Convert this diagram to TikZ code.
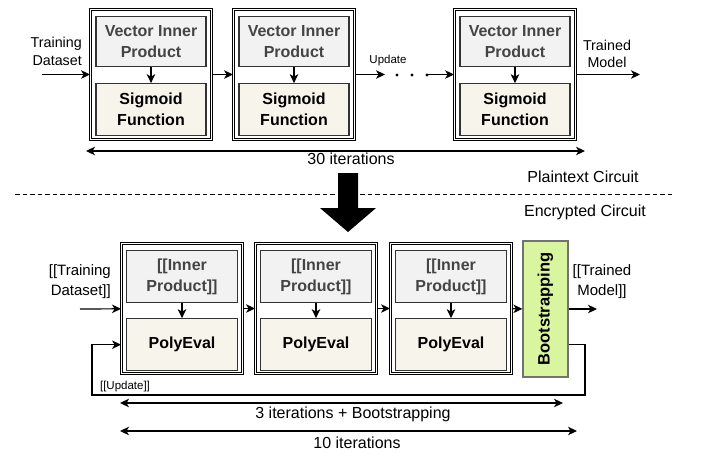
\documentclass[tikz,border=0pt]{standalone}
\usepackage{fontspec}
\setmainfont{Liberation Sans}
\usetikzlibrary{positioning,arrows.meta}

\definecolor{boxgray}{HTML}{F2F2F2}
\definecolor{boxcream}{HTML}{F7F4EC}
\definecolor{bootgreen}{HTML}{DAF59F}
\definecolor{edgegray}{HTML}{333333}
\definecolor{txtgray}{HTML}{444444}

\tikzset{
  stage/.style={draw, double, double distance=1.3pt, line width=0.9pt,
    minimum width=121pt, minimum height=130pt, inner sep=0pt},
  prodbox/.style={draw=edgegray, line width=1.1pt, fill=boxgray, text=txtgray,
    minimum width=110pt, minimum height=50pt, align=center,
    font=\fontsize{16}{21}\selectfont\bfseries},
  funcbox/.style={prodbox, fill=boxcream, text=black, minimum height=52pt},
  lbl/.style={align=center, inner sep=0pt, font=\fontsize{14.3}{17.5}\selectfont},
  flow/.style={-{Stealth[length=9pt,width=8.5pt,inset=2.5pt]}, line width=1.2pt},
  spanline/.style={{Stealth[length=9pt,width=8.5pt,inset=2.5pt]}-{Stealth[length=9pt,width=8.5pt,inset=2.5pt]}, line width=1.2pt},
}

\begin{document}
\begin{tikzpicture}[x=1pt,y=-1pt]
  \useasboundingbox (0,0) rectangle (702,453);

  % plaintext circuit
  \node[stage] (p1) at (151,74.5) {};
  \node[stage] (p2) at (294,74.5) {};
  \node[stage] (p3) at (515,74.5) {};
  \foreach \i in {1,2,3} {
    \node[prodbox, below=7pt of p\i.north] (v\i) {Vector Inner\\Product};
    \node[funcbox, below=16pt of v\i] (s\i) {Sigmoid\\Function};
    \draw[flow] (v\i) -- (s\i);
  }

  \coordinate (tdin) at (42,74.5);
  \node[lbl, align=right, anchor=east] (tdlbl) at (82,51.5) {Training\\Dataset};
  \draw[flow] (tdin) -- (p1);
  \draw[flow] (p1) -- (p2);

  \coordinate (u1) at (385,74.5);
  \coordinate (u2) at (427,74.5);
  \node[lbl, font=\fontsize{11.5}{13}\selectfont] (updlbl) at (388,61) {Update};
  \draw[flow] (p2) -- (u1);
  \foreach \x in {397,412,427} \fill (\x,75) circle (1.7pt);
  \draw[flow] (u2) -- (p3);

  \coordinate (tmout) at (640,74.5);
  \node[lbl] (tmlbl) at (607,53.8) {Trained\\Model};
  \draw[flow] (p3) -- (tmout);

  \coordinate (it30a) at (86,151);
  \coordinate (it30b) at (585,151);
  \draw[spanline] (it30a) -- (it30b);
  \node[lbl, anchor=base, font=\fontsize{16}{19}\selectfont] (it30) at (351,164) {30 iterations};

  % divider
  \coordinate (dl) at (15,194);
  \coordinate (dr) at (675,194);
  \draw[dash pattern=on 4.5pt off 3pt, line width=1pt] (dl) -- (dr);
  \node[lbl, anchor=base, font=\fontsize{16}{19}\selectfont] (ptc) at (583,182) {Plaintext Circuit};
  \node[lbl, anchor=base, font=\fontsize{16}{19}\selectfont] (enc) at (585,216) {Encrypted Circuit};
  \fill (338,173) -- (358,173) -- (358,208) -- (376,208) -- (348,232)
    -- (320,208) -- (338,208) -- cycle;

  % encrypted circuit
  \node[stage] (e1) at (182,308.5) {};
  \node[stage] (e2) at (316,308.5) {};
  \node[stage] (e3) at (451,308.5) {};
  \foreach \i in {1,2,3} {
    \node[prodbox, minimum width=111pt, minimum height=52pt, below=7pt of e\i.north] (ip\i) {[[Inner\\Product]]};
    \node[funcbox, minimum width=111pt, below=15pt of ip\i] (pe\i) {PolyEval};
    \draw[flow] (ip\i) -- (pe\i);
  }
  \node[draw=gray!110, line width=1.2pt, fill=bootgreen, minimum width=45pt,
    minimum height=136pt, inner sep=0pt, font=\fontsize{16.5}{19}\selectfont\bfseries]
    (boot) at (545.5,309) {\rotatebox{90}{Bootstrapping}};

  \coordinate (etin) at (80,309);
  \node[lbl, align=right, anchor=east, font=\fontsize{15}{20}\selectfont] (etdlbl) at (111,282) {[[Training\\Dataset]]};
  \draw[flow] (etin) -- (e1);
  \draw[flow] (e1) -- (e2);
  \draw[flow] (e2) -- (e3);
  \draw[flow] (e3) -- (boot);

  \coordinate (etout) at (597,309);
  \node[lbl, font=\fontsize{15}{20}\selectfont] (etmlbl) at (602,282) {[[Trained\\Model]]};
  \draw[flow] (boot) -- (etout);

  % feedback
  \coordinate (fbr) at (585,395);
  \coordinate (fbl) at (92,395);
  \draw[flow] (boot.east |- pe1) -| (fbr) -- (fbl) |- (e1.west |- pe1);
  \node[lbl, anchor=base, font=\fontsize{11.5}{13}\selectfont] (eupd) at (125,389) {[[Update]]};

  \coordinate (it3a) at (120,403);
  \coordinate (it3b) at (563,403);
  \draw[spanline] (it3a) -- (it3b);
  \node[lbl, anchor=base, font=\fontsize{16}{19}\selectfont] (it3) at (353,418) {3 iterations + Bootstrapping};

  \coordinate (it10a) at (120,431);
  \coordinate (it10b) at (577,431);
  \draw[spanline] (it10a) -- (it10b);
  \node[lbl, anchor=base, font=\fontsize{16}{19}\selectfont] (it10) at (357,448) {10 iterations};
\end{tikzpicture}
\end{document}
